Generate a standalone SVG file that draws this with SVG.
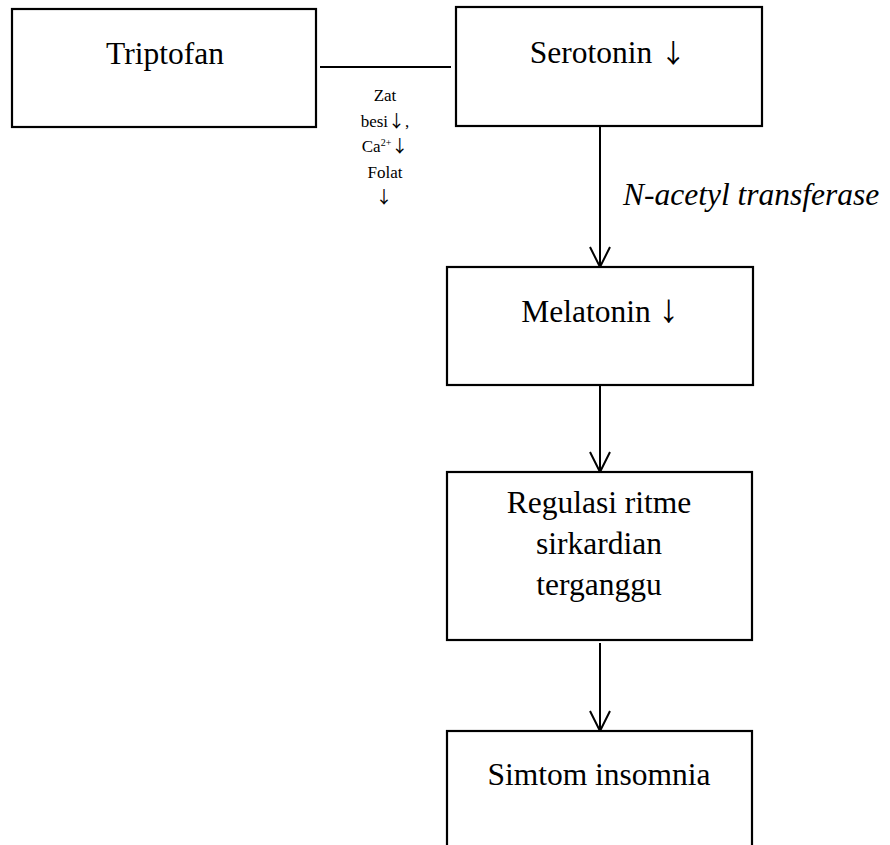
<svg xmlns="http://www.w3.org/2000/svg" width="890" height="845" viewBox="0 0 890 845">
<defs>
<style>
.box{fill:#fff;stroke:#000;stroke-width:2.2}
.t{font-family:"Liberation Serif","Times New Roman",serif;font-size:31.5px;fill:#000;text-anchor:middle}
.s{font-family:"Liberation Serif","Times New Roman",serif;font-size:17px;fill:#000;text-anchor:middle}
.ar{font-family:"Noto Sans CJK SC","DejaVu Sans",sans-serif}
.ln{stroke:#000;stroke-width:2;fill:none}
</style>
</defs>
<rect width="890" height="845" fill="#fff"/>
<g id="connectors">
<line class="ln" x1="320" y1="67" x2="451" y2="67"/>
<line class="ln" x1="600" y1="126" x2="600" y2="266"/>
<line class="ln" x1="600" y1="386" x2="600" y2="471"/>
<line class="ln" x1="600" y1="643" x2="600" y2="730"/>
<path class="ln" d="M590,247 L600,267 L610,247"/>
<path class="ln" d="M590,452 L600,472 L610,452"/>
<path class="ln" d="M590,711 L600,731 L610,711"/>
<text class="t" x="623" y="205" style="text-anchor:start;font-style:italic">N-acetyl transferase</text>
<text class="s" x="385" y="101">Zat</text>
<text class="s" x="385" y="127">besi<tspan class="ar">↓</tspan>,</text>
<text class="s" x="385" y="152">Ca<tspan font-size="10" dy="-6">2+</tspan><tspan class="ar" dy="6">↓</tspan></text>
<text class="s" x="385" y="178">Folat</text>
<text class="s ar" x="384" y="203">↓</text>
</g>
<g id="triptofan">
<rect class="box" x="12" y="9" width="304" height="118"/>
<text class="t" x="165" y="64">Triptofan</text>
</g>
<g id="serotonin">
<rect class="box" x="456" y="7" width="306" height="119"/>
<text class="t" x="608" y="63">Serotonin <tspan class="ar" font-size="26">↓</tspan></text>
</g>
<g id="melatonin">
<rect class="box" x="447" y="267" width="306" height="118"/>
<text class="t" x="600" y="322">Melatonin <tspan font-size="40">↓</tspan></text>
</g>
<g id="regulasi">
<rect class="box" x="447" y="472" width="305" height="168"/>
<text class="t" x="599" y="513">Regulasi ritme</text>
<text class="t" x="599" y="554">sirkardian</text>
<text class="t" x="599" y="595">terganggu</text>
</g>
<g id="simtom">
<rect class="box" x="447" y="731" width="305" height="140"/>
<text class="t" x="599" y="785">Simtom insomnia</text>
</g>
</svg>
